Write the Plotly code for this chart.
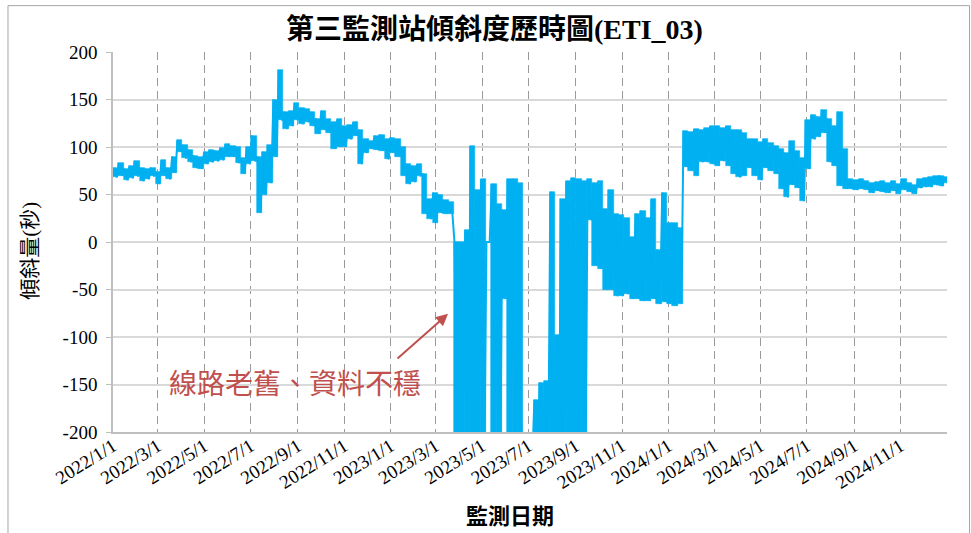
import pandas as pd
import plotly.graph_objects as go

# Weekly tilt envelope (seconds), 2022/1/1 .. 2024/12/31, one entry per 7-day block
week_start = pd.date_range("2022-01-01", periods=157, freq="7D")

weekly_high = [
    78, 83, 77, 80, 85, 78, 77, 78, 74, 86, 78, 90, 107, 102, 97, 91, 89, 95, 97, 96,
    99, 103, 101, 100, 88, 100, 112, 90, 95, 102, 150, 181, 137, 138, 146, 141, 140, 137, 130, 138,
    129, 126, 129, 122, 123, 126, 118, 108, 106, 112, 113, 108, 110, 108, 100, 82, 80, 82, 72, 45,
    52, 50, 44, 42, 0, 0, 13, 101, 55, 66, 0, 61, 40, 34, 66, 66, 62, -230, -230, -166,
    -148, -146, 53, -98, 45, 64, 67, 66, 64, 66, 62, 64, 35, 55, 29, 28, 25, 5, 30, 33,
    25, 45, -8, 52, 20, 20, 15, 117, 116, 119, 118, 120, 122, 122, 120, 122, 118, 118, 115, 108,
    108, 105, 108, 104, 101, 98, 94, 106, 96, 88, 128, 134, 132, 139, 130, 122, 137, 98, 66, 65,
    66, 64, 62, 63, 64, 62, 64, 61, 66, 62, 60, 66, 67, 68, 69, 70, 68,
]
weekly_low = [
    68, 70, 65, 67, 69, 64, 66, 69, 61, 70, 66, 73, 95, 88, 84, 78, 77, 82, 84, 85,
    86, 90, 90, 83, 72, 82, 85, 31, 50, 62, 90, 128, 119, 122, 128, 124, 126, 122, 114, 118,
    115, 98, 100, 100, 108, 112, 82, 94, 98, 97, 96, 87, 94, 90, 70, 61, 63, 70, 30, 24,
    20, 31, 30, 30, -230, -230, -230, -230, -230, -230, 0, -230, -230, -60, -230, -230, -230, -230, -230, -230,
    -230, -230, -230, -230, -230, -230, -230, -230, -230, 23, -25, -28, -50, -50, -57, -57, -55, -60, -60, -62,
    -62, -60, -65, -63, -65, -67, -65, 79, 75, 70, 84, 84, 82, 80, 85, 80, 72, 68, 70, 78,
    70, 65, 78, 75, 72, 56, 47, 60, 57, 43, 77, 108, 111, 115, 84, 80, 59, 56, 56, 55,
    56, 55, 52, 54, 53, 52, 54, 51, 55, 53, 51, 57, 58, 58, 60, 59, 62,
]

tick_dates = [
    "2022-01-01", "2022-03-01", "2022-05-01", "2022-07-01", "2022-09-01", "2022-11-01",
    "2023-01-01", "2023-03-01", "2023-05-01", "2023-07-01", "2023-09-01", "2023-11-01",
    "2024-01-01", "2024-03-01", "2024-05-01", "2024-07-01", "2024-09-01", "2024-11-01",
    "2025-01-01",
]
tick_labels = [
    "2022/1/1", "2022/3/1", "2022/5/1", "2022/7/1", "2022/9/1", "2022/11/1",
    "2023/1/1", "2023/3/1", "2023/5/1", "2023/7/1", "2023/9/1", "2023/11/1",
    "2024/1/1", "2024/3/1", "2024/5/1", "2024/7/1", "2024/9/1", "2024/11/1",
    "",
]
y_ticks = [200, 150, 100, 50, 0, -50, -100, -150, -200]
y_labels = ["200", "150", "100", "50", "0", "-50", "-100", "-150", "-200"]

BLUE = "#00B0F0"
RED = "#C0504D"
SERIF = "Liberation Serif, Noto Sans CJK TC, serif"
WEEK_MS = 7 * 24 * 3600 * 1000

# Weekly spread of the readings: a solid block from each week's low to its high
week_mid = [s + pd.Timedelta(hours=84) for s in week_start]
spread = [hi - lo for hi, lo in zip(weekly_high, weekly_low)]

# The reading trace itself swings from each week's high to its low
xs, ys = [], []
for start, hi, lo in zip(week_start, weekly_high, weekly_low):
    xs += [start + pd.Timedelta(hours=18), start + pd.Timedelta(hours=120)]
    ys += [hi, lo]

fig = go.Figure()
fig.add_trace(go.Bar(
    x=week_mid, y=spread, base=weekly_low, width=WEEK_MS,
    marker=dict(color=BLUE, line=dict(color=BLUE, width=0.6)),
    hoverinfo="skip", showlegend=False,
))
fig.add_trace(go.Scatter(
    x=xs, y=ys, mode="lines",
    line=dict(color=BLUE, width=2, simplify=False),
    hoverinfo="skip", showlegend=False,
))

fig.update_layout(
    width=971, height=533,
    margin=dict(l=113, r=24, t=52, b=101),
    paper_bgcolor="white", plot_bgcolor="white",
    font=dict(family=SERIF, color="black", size=18),
    bargap=0,
    xaxis=dict(
        type="date", range=["2022-01-01", "2025-01-01"],
        tickmode="array", tickvals=tick_dates, ticktext=tick_labels,
        tickangle=-32, tickfont=dict(size=19, family=SERIF),
        ticklabelstandoff=-6,
        showgrid=True, gridcolor="#9A9A9A", gridwidth=1, griddash="8px,5px",
        showline=True, linecolor="#BFBFBF", linewidth=1.5,
        ticks="", zeroline=False,
    ),
    yaxis=dict(
        range=[-200, 200], tickmode="array", tickvals=y_ticks, ticktext=y_labels,
        tickfont=dict(size=19, family=SERIF),
        showgrid=True, gridcolor="#D9D9D9", gridwidth=1.5,
        showline=True, linecolor="#BFBFBF", linewidth=1.5,
        ticks="outside", ticklen=5, tickcolor="#BFBFBF",
        ticklabelstandoff=5, zeroline=False,
    ),
)

# Chart title and axis titles
fig.add_annotation(
    text="<b>第三監測站傾斜度歷時圖(ETI_03)</b>",
    xref="paper", yref="paper", x=0.458, y=1.059,
    xanchor="center", yanchor="middle",
    showarrow=False, font=dict(size=28, family=SERIF),
)
fig.add_annotation(
    text="傾斜量(秒)", textangle=-90,
    xref="paper", yref="paper", x=-0.0995, y=0.477,
    xanchor="center", yanchor="middle",
    showarrow=False, font=dict(size=21, family=SERIF),
)
fig.add_annotation(
    text="<b>監測日期</b>",
    xref="paper", yref="paper", x=0.476, y=-0.223,
    xanchor="center", yanchor="middle",
    showarrow=False, font=dict(size=22, family=SERIF),
)

# Note on the unstable period, with its pointer
fig.add_annotation(
    text="線路老舊、資料不穩",
    xref="paper", yref="paper", x=0.218, y=0.124,
    xanchor="center", yanchor="middle",
    showarrow=False, font=dict(size=28, family=SERIF, color=RED),
)
fig.add_annotation(
    text="", xref="paper", yref="paper", x=0.4017, y=0.311,
    ax=-52, ay=46, showarrow=True,
    arrowhead=2, arrowsize=1.2, arrowwidth=2, arrowcolor=RED, standoff=0,
)

# Outer chart frame
fig.add_shape(
    type="rect", xref="paper", yref="paper",
    x0=-0.1259, x1=1.027, y0=-0.3, y1=1.122,
    line=dict(color="#A6A6A6", width=1), fillcolor="rgba(0,0,0,0)",
)

fig.write_html("out.html")
